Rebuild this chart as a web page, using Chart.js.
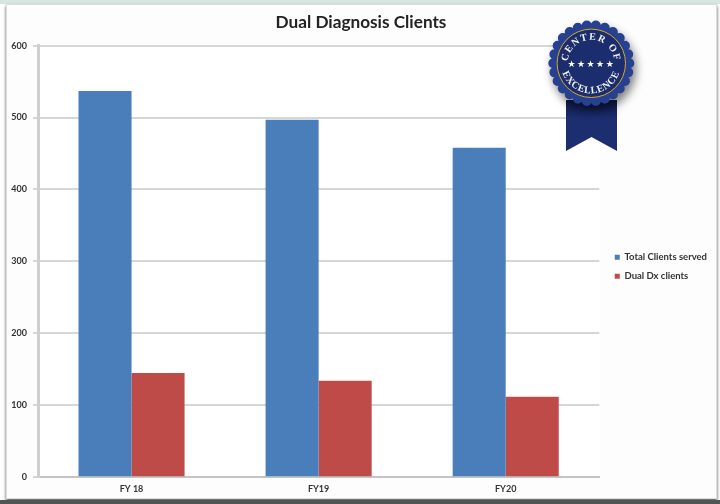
<!DOCTYPE html>
<html>
<head>
<meta charset="utf-8">
<title>Dual Diagnosis Clients</title>
<script src="https://cdn.jsdelivr.net/npm/chart.js@4"></script>
<style>
html, body { margin: 0; padding: 0; background: #fff; }
#wrap { position: relative; width: 720px; height: 504px; overflow: hidden; background: #fff; }
#topstrip { position: absolute; left: 0; top: 0; width: 720px; height: 4px; background: #d6e6e0; }
#bottomstrip { position: absolute; left: 0; top: 500px; width: 720px; height: 4px; background: #4f5654; }
#sheet { position: absolute; left: 6px; top: 4px; width: 711px; height: 495px; background: #fdfdfd;
  border: 1px solid #dcdcdc; box-sizing: border-box; box-shadow: 0 2px 3px #555; }
#plotbg { position: absolute; left: 38px; top: 46px; width: 562px; height: 430px; background: #fff; }
canvas { position: absolute; left: 0; top: 0; filter: blur(0.6px); }
#badge { position: absolute; left: 530px; top: 0; }
</style>
</head>
<body>
<div id="wrap">
  <div id="topstrip"></div>
  <div id="bottomstrip"></div>
  <div id="sheet"></div>
  <div id="plotbg"></div>
  <canvas id="clientsChart" width="720" height="504"></canvas>
  <svg id="badge" width="190" height="170" viewBox="530 0 190 170">
    <defs>
      <filter id="sombra" x="-40%" y="-40%" width="180%" height="180%">
        <feGaussianBlur stdDeviation="5"/>
      </filter>
      <linearGradient id="cinta" x1="0" y1="0" x2="0" y2="1">
        <stop offset="0" stop-color="#0e1a45"/>
        <stop offset="0.35" stop-color="#1c2d70"/>
        <stop offset="1" stop-color="#1c2d70"/>
      </linearGradient>
      <path id="arcoArriba" d="M 567.5 63.3 A 23.5 23.5 0 0 1 614.5 63.3"/>
      <path id="arcoAbajo" d="M 561 63.3 A 30 30 0 0 0 621 63.3"/>
    </defs>
    <path d="M 566 100 H 617 V 151 L 591.5 137 L 566 151 Z" fill="url(#cinta)"/>
    <circle cx="594" cy="69" r="42" fill="#000" opacity="0.5" filter="url(#sombra)"/>
    <circle cx="591.3" cy="63.3" r="38" fill="none" stroke="#27408f" stroke-width="10" stroke-linecap="round" pathLength="26" stroke-dasharray="0 1"/>
    <circle cx="591.3" cy="63.3" r="38" fill="#27408f"/>
    <circle cx="591.3" cy="63.3" r="34.2" fill="#1c2d6e" stroke="#d3a92e" stroke-width="1"/>
    <text font-family="Liberation Serif" font-weight="bold" font-size="10" fill="#f2f2f2" letter-spacing="1.3">
      <textPath href="#arcoArriba" startOffset="50%" text-anchor="middle">CENTER OF</textPath>
    </text>
    <text font-family="Liberation Serif" font-weight="bold" font-size="10" fill="#f2f2f2" letter-spacing="0.6">
      <textPath href="#arcoAbajo" startOffset="50%" text-anchor="middle">EXCELLENCE</textPath>
    </text>
    <text x="591.3" y="66.5" font-family="DejaVu Sans" font-size="9" fill="#ffffff" text-anchor="middle" letter-spacing="1.5">★★★★★</text>
  </svg>
</div>
<script>
// Datos
const anios = ['FY 18', 'FY19', 'FY20'];
const totalClientes = [537, 497, 458];
const clientesDual = [145, 134, 112];
const marcasY = [0, 100, 200, 300, 400, 500, 600];

new Chart(document.getElementById('clientsChart'), {
    type: 'bar',
    data: {
        labels: anios,
        datasets: [
            {
                label: 'Total Clients served',
                data: totalClientes,
                backgroundColor: '#4a7ebb'
            },
            {
                label: 'Dual Dx clients',
                data: clientesDual,
                backgroundColor: '#be4b48'
            }
        ]
    },
    options: {
        responsive: false,
        animation: false,
        layout: { padding: { top: 12, right: 3, bottom: 4, left: 5 } },
        datasets: { bar: { barPercentage: 1, categoryPercentage: 0.567 } },
        plugins: {
            title: {
                display: true,
                text: 'Dual Diagnosis Clients',
                color: '#222',
                font: { family: 'Lato', size: 17.2, weight: 'bold' },
                padding: { top: 0, bottom: 13 }
            },
            legend: {
                position: 'right',
                // titulo vacio para bajar la leyenda
                title: { display: true, text: ' ', font: { size: 8 }, padding: { top: 6, bottom: 6 } },
                labels: {
                    boxWidth: 5,
                    boxHeight: 5,
                    padding: 9.5,
                    color: '#333',
                    font: { family: 'Lato', size: 9.5, weight: 'bold' }
                }
            },
            tooltip: { enabled: false }
        },
        scales: {
            x: {
                grid: { display: false, drawTicks: false },
                border: { color: '#c4c4c4', width: 2 },
                ticks: { color: '#333', padding: 6, font: { family: 'Lato', size: 9, weight: 'bold' } }
            },
            y: {
                min: 0,
                max: 600,
                afterBuildTicks: (axis) => { axis.ticks = marcasY.map((v) => ({ value: v })); },
                afterFit: (axis) => { axis.width = 33; },
                grid: { color: '#d6d6d6', lineWidth: 2, tickLength: 5 },
                border: { color: '#cfcfcf', width: 3 },
                ticks: { color: '#333', padding: 6, font: { family: 'Lato', size: 9, weight: 'bold' } }
            },
            // eje vacio, solo separa el grafico de la leyenda
            hueco: {
                position: 'right',
                afterFit: (axis) => { axis.width = 6; },
                grid: { display: false },
                border: { display: false },
                ticks: { display: false }
            }
        }
    }
});
</script>
</body>
</html>
